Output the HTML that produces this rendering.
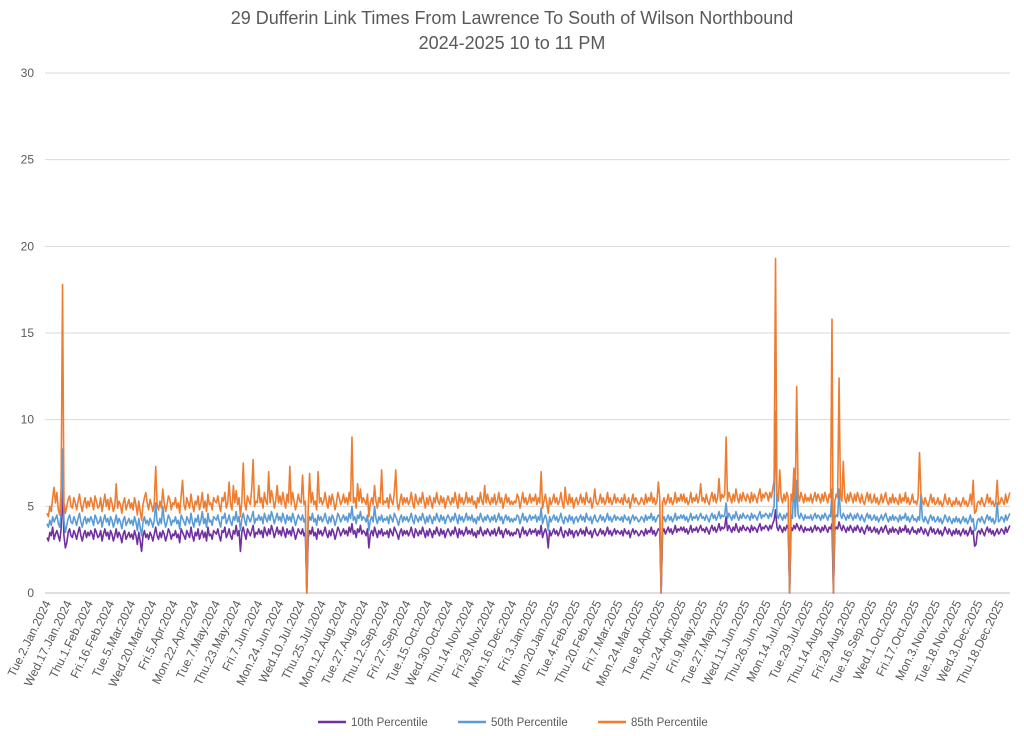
<!DOCTYPE html>
<html><head><meta charset="utf-8">
<style>
html,body{margin:0;padding:0;background:#fff;}
svg{display:block;font-family:"Liberation Sans",sans-serif;}
</style></head>
<body>
<svg id="chart" width="1024" height="736" viewBox="0 0 1024 736" xmlns="http://www.w3.org/2000/svg">
<text x="512" y="24" text-anchor="middle" font-size="18" fill="#595959">29 Dufferin Link Times From Lawrence To South of Wilson Northbound</text>
<text x="512" y="49" text-anchor="middle" font-size="18" fill="#595959">2024-2025 10 to 11 PM</text>
<g id="grid"></g>
<g id="yticks"></g>
<g id="xticks"></g>
<g id="series"></g>
<g>
<g><line x1="318" y1="722" x2="346" y2="722" stroke="#7030A0" stroke-width="2.5"/><text x="351" y="726" font-size="11.5" fill="#595959">10th Percentile</text></g>
<g><line x1="458" y1="722" x2="486" y2="722" stroke="#5B9BD5" stroke-width="2.5"/><text x="491" y="726" font-size="11.5" fill="#595959">50th Percentile</text></g>
<g><line x1="598" y1="722" x2="626" y2="722" stroke="#ED7D31" stroke-width="2.5"/><text x="631" y="726" font-size="11.5" fill="#595959">85th Percentile</text></g>
</g>
</svg>
<script>
const yTicks=[0,5,10,15,20,25,30];
const xLabels=["Tue.2.Jan.2024","Wed.17.Jan.2024","Thu.1.Feb.2024","Fri.16.Feb.2024","Tue.5.Mar.2024","Wed.20.Mar.2024","Fri.5.Apr.2024","Mon.22.Apr.2024","Tue.7.May.2024","Thu.23.May.2024","Fri.7.Jun.2024","Mon.24.Jun.2024","Wed.10.Jul.2024","Thu.25.Jul.2024","Mon.12.Aug.2024","Tue.27.Aug.2024","Thu.12.Sep.2024","Fri.27.Sep.2024","Tue.15.Oct.2024","Wed.30.Oct.2024","Thu.14.Nov.2024","Fri.29.Nov.2024","Mon.16.Dec.2024","Fri.3.Jan.2025","Mon.20.Jan.2025","Tue.4.Feb.2025","Thu.20.Feb.2025","Fri.7.Mar.2025","Mon.24.Mar.2025","Tue.8.Apr.2025","Thu.24.Apr.2025","Fri.9.May.2025","Tue.27.May.2025","Wed.11.Jun.2025","Thu.26.Jun.2025","Mon.14.Jul.2025","Tue.29.Jul.2025","Thu.14.Aug.2025","Fri.29.Aug.2025","Tue.16.Sep.2025","Wed.1.Oct.2025","Fri.17.Oct.2025","Mon.3.Nov.2025","Tue.18.Nov.2025","Wed.3.Dec.2025","Thu.18.Dec.2025"];
const labelStep=15;
// values in tenths of a minute
const p10=[32,30,35,33,38,31,34,36,33,30,37,60,33,26,29,
35,37,33,32,36,34,31,35,38,33,30,34,36,32,35,
33,36,34,31,37,35,32,33,36,30,34,37,33,35,31,
36,34,30,33,37,32,35,33,29,34,36,31,33,35,32,
34,31,36,33,28,35,30,24,33,36,32,34,31,35,33,
30,34,38,33,31,35,32,36,34,30,33,37,35,31,34,
33,36,32,34,29,37,35,33,31,36,34,32,38,33,30,
35,33,37,31,34,36,32,35,30,38,33,34,31,36,35,
34,37,33,30,36,35,38,32,34,37,33,31,36,34,39,
33,36,24,35,38,34,31,37,35,33,36,39,32,35,34,
37,34,36,32,38,35,33,37,34,39,36,32,35,38,34,
36,33,38,35,32,37,34,36,33,38,35,31,34,37,35,
34,37,33,35,0,32,36,34,38,33,35,31,37,34,36,
33,35,38,34,32,36,33,37,35,31,34,38,36,33,35,
37,34,36,33,38,35,40,34,36,32,37,35,39,34,36,
35,33,37,26,34,36,33,38,35,32,36,34,37,33,35,
34,36,32,37,35,33,38,36,34,31,35,37,33,36,34,
36,33,35,38,34,32,37,35,33,36,34,38,35,32,36,
33,37,35,32,36,34,38,35,33,37,34,36,32,35,37,
35,33,36,34,38,35,32,37,34,36,33,35,38,34,36,
34,37,33,35,32,36,34,38,35,33,36,34,37,35,33,
36,34,37,33,35,38,34,36,32,35,37,34,36,33,35,
33,35,34,37,36,32,35,38,34,36,33,35,37,34,36,
35,37,33,36,34,39,32,35,37,34,26,36,33,35,37,
34,36,33,35,38,34,32,36,35,33,37,34,36,32,35,
36,33,35,37,34,36,33,38,35,34,36,32,35,37,34,
33,35,37,34,36,33,35,38,34,36,33,35,37,34,36,
35,34,36,33,37,35,34,36,32,35,37,34,36,35,33,
34,36,35,33,37,34,36,35,38,34,36,33,35,37,36,
0,35,37,34,36,38,35,37,34,36,39,35,37,36,38,
36,38,35,37,34,36,39,35,37,36,38,35,37,39,36,
37,35,38,36,34,37,39,36,38,35,37,40,36,38,37,
38,44,36,39,37,35,38,36,40,37,35,38,36,39,37,
36,38,37,35,39,36,38,37,35,38,40,36,38,37,39,
38,36,39,37,40,42,48,38,36,39,37,35,38,36,39,
37,0,38,36,39,37,40,38,36,39,37,35,38,36,37,
36,38,35,37,39,36,38,37,35,38,36,39,37,35,38,
37,40,0,36,38,37,41,38,36,39,37,35,38,36,39,
37,35,38,36,39,37,35,38,36,34,37,39,36,38,35,
36,38,35,37,34,36,38,35,37,39,36,34,37,35,38,
35,37,36,34,38,35,37,36,39,35,37,34,36,38,35,
36,34,37,35,38,36,34,37,35,33,36,38,35,37,34,
35,37,34,36,33,35,38,36,34,37,35,33,36,34,37,
34,36,33,35,37,34,36,33,35,38,34,36,27,28,35,
36,34,37,35,33,36,38,35,37,34,36,33,35,37,34,
35,37,36,34,38,35,37,39,36,34,37,35,38,31,36];
const p50=[40,38,42,39,44,41,43,45,40,38,46,83,42,35,39,
43,45,41,40,44,42,39,43,46,41,38,42,44,40,43,
41,44,42,39,45,43,40,41,44,38,42,45,41,43,39,
44,42,38,41,45,40,43,41,37,42,44,39,41,43,40,
42,39,44,41,36,43,38,33,41,44,40,42,39,43,41,
38,42,52,41,39,43,40,50,42,38,41,45,43,39,42,
41,44,40,42,37,45,43,41,39,44,42,40,46,41,38,
43,41,45,39,42,47,40,43,38,46,41,42,39,44,43,
42,45,41,38,44,43,46,40,42,45,41,39,44,42,47,
41,44,36,43,46,42,39,45,43,41,44,47,40,43,42,
45,42,44,40,46,43,41,45,42,47,44,40,43,46,42,
44,41,46,43,40,45,42,44,41,46,43,39,42,45,43,
42,45,41,43,0,40,44,42,46,41,43,39,45,42,44,
41,43,46,42,40,44,41,45,43,39,42,46,44,41,43,
45,42,44,41,46,43,50,42,44,40,45,43,47,42,44,
43,41,45,36,42,44,41,50,43,40,44,42,45,41,43,
42,44,40,45,43,41,46,44,42,39,43,45,41,44,42,
44,41,43,46,42,40,45,43,41,44,42,46,43,40,44,
41,45,43,40,44,42,46,43,41,45,42,44,40,43,45,
43,41,44,42,46,43,40,45,42,44,41,43,46,42,44,
42,45,41,43,40,44,42,46,43,41,44,42,45,43,41,
44,42,45,41,43,46,42,44,40,43,45,42,44,41,43,
41,43,42,45,44,40,43,46,42,44,41,43,45,42,44,
43,45,41,44,42,49,40,43,45,42,36,44,41,43,45,
42,44,41,43,46,42,40,44,43,41,45,42,44,40,43,
44,41,43,45,42,44,41,46,43,42,44,40,43,45,42,
41,43,45,42,44,41,43,46,42,44,41,43,45,42,44,
43,42,44,41,45,43,42,44,40,43,45,42,44,43,41,
42,44,43,41,45,42,44,43,46,42,44,41,43,45,44,
0,42,44,41,43,45,42,44,41,43,46,42,44,43,45,
43,45,42,44,41,43,46,42,44,43,45,42,44,46,43,
44,42,45,43,41,44,46,43,45,42,44,47,43,45,44,
45,52,43,46,44,42,45,43,47,44,42,45,43,46,44,
43,45,44,42,46,43,45,44,42,45,47,43,45,44,46,
45,43,46,44,47,50,105,45,43,46,44,42,45,43,46,
44,0,45,43,65,44,65,45,43,46,44,42,45,43,44,
43,45,42,44,46,43,45,44,42,45,43,46,44,42,45,
44,60,0,43,45,44,60,45,43,46,44,42,45,43,46,
44,42,45,43,46,44,42,45,43,41,44,46,43,45,42,
43,45,42,44,41,43,45,42,44,46,43,41,44,42,45,
42,44,43,41,45,42,44,43,46,42,44,41,43,45,42,
43,41,44,42,57,43,41,44,42,40,43,45,42,44,41,
42,44,41,43,40,42,45,43,41,44,42,40,43,41,44,
41,43,40,42,44,41,43,40,42,45,41,43,36,37,42,
43,41,44,42,40,43,45,42,44,41,43,40,42,52,41,
42,44,43,41,45,42,44,46,43,41,44,42,45,39,43];
const p85=[46,44,50,47,55,61,52,58,48,45,60,178,52,46,50,
54,56,50,49,55,52,48,53,57,51,47,52,55,49,53,
50,55,52,48,56,53,49,50,55,47,52,57,50,54,48,
55,52,47,50,63,49,53,51,46,52,55,48,51,54,49,
52,48,55,51,45,53,47,42,51,55,58,52,48,54,51,
47,52,73,51,48,53,49,60,52,47,51,56,54,48,52,
51,55,49,52,46,56,65,51,48,55,52,49,57,51,47,
53,51,56,48,52,58,49,53,47,57,51,52,48,55,53,
52,56,51,47,55,53,58,49,52,64,51,48,62,52,59,
51,55,44,53,75,52,48,56,53,51,60,77,50,53,52,
62,52,55,49,58,53,51,70,52,59,55,49,53,62,52,
56,51,58,53,49,57,52,73,51,58,53,48,52,57,53,
52,68,51,53,0,49,69,52,58,51,53,48,70,52,55,
51,53,58,52,49,56,51,57,53,48,52,58,55,51,53,
57,52,55,51,58,53,90,52,55,49,63,53,60,52,55,
53,51,57,44,52,55,51,62,53,49,55,52,71,51,53,
52,55,49,57,53,51,58,71,52,48,53,57,51,55,52,
55,51,53,58,52,49,57,53,51,55,52,58,53,49,55,
51,56,53,49,55,52,58,53,51,56,52,55,49,53,56,
53,51,55,52,58,53,49,57,52,55,51,53,58,52,55,
52,56,51,53,49,55,52,58,53,51,62,52,57,53,51,
55,52,57,51,53,58,52,55,49,53,57,52,55,51,53,
51,53,52,57,55,49,53,58,52,55,51,53,57,52,55,
53,57,51,55,52,70,49,53,57,52,46,55,51,53,57,
52,55,51,53,58,52,49,61,53,51,57,52,55,49,53,
55,51,53,57,52,55,51,58,53,52,55,49,53,60,52,
51,53,57,52,55,51,53,58,52,55,51,53,57,52,55,
53,52,55,51,57,53,52,55,49,53,57,52,55,53,51,
52,55,53,51,57,52,55,53,58,52,55,51,53,64,55,
0,52,55,51,53,57,52,55,51,53,58,52,55,53,57,
53,57,52,55,51,53,58,52,55,53,57,52,55,63,53,
55,52,57,53,51,55,58,53,57,52,55,66,53,57,55,
57,90,53,58,55,52,57,53,60,55,52,57,53,58,55,
53,57,55,52,58,53,57,55,52,57,60,53,57,55,58,
57,53,58,55,60,65,193,57,53,71,55,52,57,53,58,
55,0,57,53,72,55,119,57,53,58,55,52,57,53,55,
53,57,52,55,58,53,57,55,52,57,53,58,55,52,57,
55,158,0,53,57,55,124,57,53,76,55,52,57,53,58,
55,52,57,53,58,55,52,57,53,51,55,58,53,57,52,
53,57,52,55,51,53,57,52,55,58,53,51,55,52,57,
52,55,53,51,57,52,55,53,58,52,55,51,53,57,52,
53,51,55,81,57,53,51,55,52,50,53,57,52,55,51,
52,55,51,53,50,52,57,53,51,55,52,50,53,51,55,
51,53,50,52,55,51,53,50,52,57,51,65,46,47,52,
53,51,55,52,50,53,57,52,55,51,53,50,52,65,51,
52,55,53,51,57,52,55,58,53,51,55,52,57,48,50];

const NS="http://www.w3.org/2000/svg";
const X0=47,XLAST=1000,XMAX=1010,Y0=593,Y1=73,YMAX=30;
const step=(XLAST-X0)/((xLabels.length-1)*labelStep);
function xs(i){return X0+step*i;}
function ys(v){return Y0-(Y0-Y1)*v/YMAX;}
const grid=document.getElementById('grid'),yt=document.getElementById('yticks'),xt=document.getElementById('xticks'),ser=document.getElementById('series');
yTicks.forEach(t=>{
  const l=document.createElementNS(NS,'line');
  
  
  l.setAttribute('x1',45);l.setAttribute('x2',1010);l.setAttribute('y1',ys(t));l.setAttribute('y2',ys(t));
  l.setAttribute('stroke',t===0?'#bfbfbf':'#d9d9d9');l.setAttribute('stroke-width',1);
  grid.appendChild(l);
  const tx=document.createElementNS(NS,'text');
  
  
  tx.setAttribute('x',34);tx.setAttribute('y',ys(t)+4);tx.setAttribute('text-anchor','end');
  tx.setAttribute('font-size',12);tx.setAttribute('fill','#595959');tx.textContent=t;
  yt.appendChild(tx);
});
xLabels.forEach((s,k)=>{
  const x=xs(k*labelStep)+4;
  const tx=document.createElementNS(NS,'text');
  
  
  tx.setAttribute('x',x);tx.setAttribute('y',603);tx.setAttribute('text-anchor','end');
  tx.setAttribute('font-size',12);tx.setAttribute('fill','#595959');
  tx.setAttribute('transform','rotate(-64 '+x+' 603)');tx.textContent=s;
  xt.appendChild(tx);
});
function drawLine(arr,color,name){
  const pts=[];
  arr.forEach((v,i)=>{const x=xs(i);if(x<=XMAX)pts.push(x.toFixed(2)+','+ys(v/10).toFixed(2));});
  const p=document.createElementNS(NS,'polyline');
  
  
  p.setAttribute('points',pts.join(' '));
  p.setAttribute('fill','none');p.setAttribute('stroke',color);p.setAttribute('stroke-width',1.6);p.setAttribute('stroke-linejoin','round');
  ser.appendChild(p);
}
drawLine(p10,'#7030A0','line-10th-percentile');
drawLine(p50,'#5B9BD5','line-50th-percentile');
drawLine(p85,'#ED7D31','line-85th-percentile');
</script>
</body></html>
